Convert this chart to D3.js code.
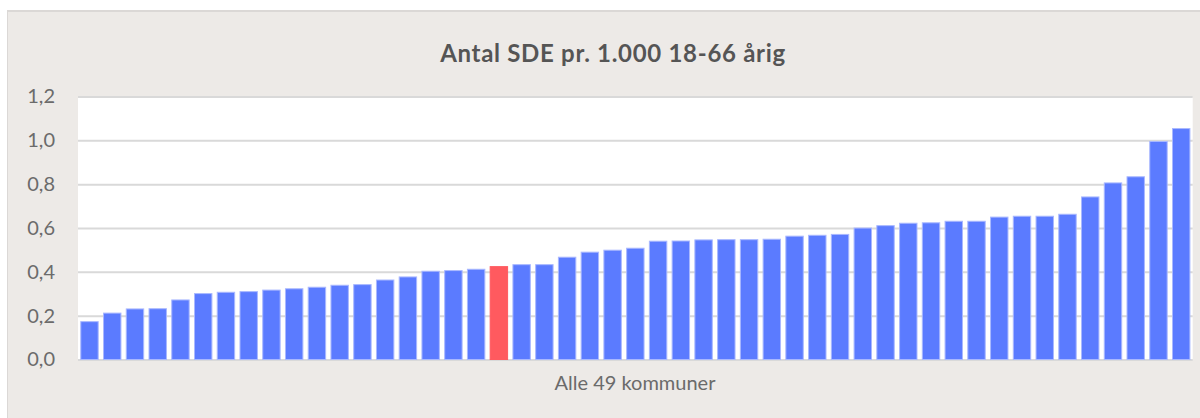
<!DOCTYPE html>
<html>
<head>
<meta charset="utf-8">
<script src="https://cdn.jsdelivr.net/npm/d3@7"></script>
<style>
  body { margin: 0; background: #fff; }
  svg { display: block; }
</style>
</head>
<body>
<svg id="chart" width="1200" height="418"></svg>
<script>
// 49 kommuner, sorted ascending
const kommuner = d3.range(1, 50).map(String);
const values = [
  0.175, 0.214, 0.233, 0.234, 0.274, 0.303, 0.309, 0.312, 0.319, 0.325,
  0.332, 0.341, 0.344, 0.365, 0.379, 0.405, 0.408, 0.414, 0.426, 0.435,
  0.435, 0.469, 0.492, 0.501, 0.510, 0.542, 0.543, 0.548, 0.549, 0.549,
  0.551, 0.565, 0.569, 0.573, 0.602, 0.613, 0.624, 0.626, 0.633, 0.633,
  0.652, 0.656, 0.656, 0.665, 0.744, 0.808, 0.836, 0.997, 1.056
];
const highlight = '19';
const yTicks = [0, 0.2, 0.4, 0.6, 0.8, 1.0, 1.2];
const title = 'Antal SDE pr. 1.000 18-66 årig';
const xLabel = 'Alle 49 kommuner';

const svg = d3.select('#chart');
const W = 1200, H = 418;
const plot = {left: 78, right: 1192.7, top: 96.5, bottom: 359.5};

// frame
svg.append('rect').attr('x', 7).attr('y', 10).attr('width', W - 7).attr('height', H - 10)
  .attr('fill', '#edeae7');
svg.append('line').attr('x1', 7).attr('x2', W).attr('y1', 11).attr('y2', 11)
  .attr('stroke', '#dbd8d6').attr('stroke-width', 2);
svg.append('line').attr('x1', 7.5).attr('x2', 7.5).attr('y1', 10).attr('y2', H)
  .attr('stroke', '#dbd8d6').attr('stroke-width', 1);

svg.append('text').text(title)
  .attr('x', 613).attr('y', 62)
  .attr('text-anchor', 'middle')
  .attr('font-family', 'Lato, sans-serif').attr('font-weight', 700)
  .attr('font-size', 24).attr('letter-spacing', 0.7).attr('fill', '#555');

svg.append('rect')
  .attr('x', plot.left).attr('y', plot.top)
  .attr('width', plot.right - plot.left).attr('height', plot.bottom - plot.top)
  .attr('fill', '#fff');

const x = d3.scaleBand().domain(kommuner).range([plot.left, plot.right])
  .paddingInner(0.19).paddingOuter(0.1);
const y = d3.scaleLinear().domain([0, 1.2]).range([plot.bottom, plot.top]);

const fmt = d => d3.format('.1f')(d).replace('.', ',');

const yAxis = svg.append('g')
  .attr('transform', `translate(${plot.left},0)`)
  .call(d3.axisLeft(y).tickValues(yTicks).tickSize(-(plot.right - plot.left)).tickPadding(23).tickFormat(fmt));
yAxis.select('.domain').remove();
yAxis.selectAll('.tick line').attr('stroke', '#d9d9d9').attr('stroke-width', 2);
yAxis.selectAll('.tick text')
  .attr('font-family', 'Lato, sans-serif').attr('font-size', 20).attr('fill', '#6b6b6b');

svg.append('g').selectAll('rect')
  .data(values)
  .join('rect')
  .attr('x', (d, i) => x(kommuner[i]) + 0.5)
  .attr('y', d => y(d) + 0.5)
  .attr('width', x.bandwidth() - 1)
  .attr('height', d => y(0) - y(d) - 0.5)
  .attr('fill', (d, i) => kommuner[i] === highlight ? '#ff5a5f' : '#5b7bff')
  .attr('stroke', (d, i) => kommuner[i] === highlight ? '#ff5a5f' : '#a9b8ff')
  .attr('stroke-width', 1);

svg.append('text').text(xLabel)
  .attr('x', 635).attr('y', 390)
  .attr('text-anchor', 'middle')
  .attr('font-family', 'Lato, sans-serif')
  .attr('font-size', 20).attr('fill', '#6b6b6b');
</script>
</body>
</html>
